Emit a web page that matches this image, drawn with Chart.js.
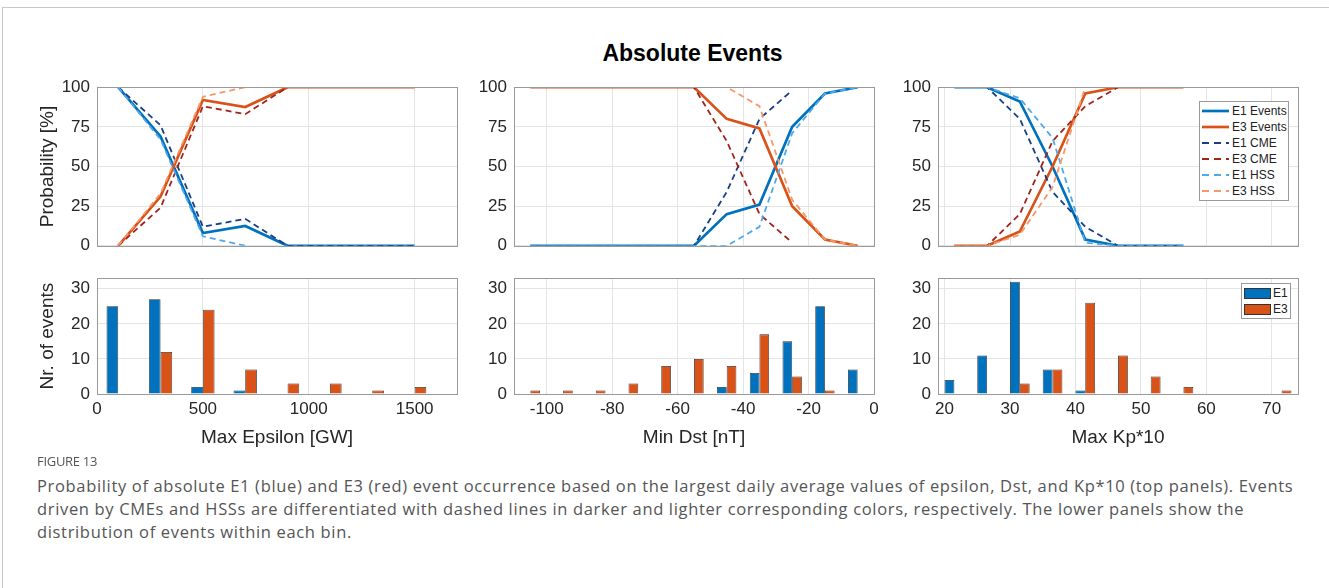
<!DOCTYPE html>
<html>
<head>
<meta charset="utf-8">
<script src="https://cdn.jsdelivr.net/npm/chart.js@4.4.1/dist/chart.umd.min.js"></script>
<style>
  html, body { margin: 0; padding: 0; background: #fff; }
  body { width: 1329px; height: 588px; position: relative; overflow: hidden; font-family: "Liberation Sans", Arial, sans-serif; }
  .frame { position: absolute; left: 2px; top: 7px; width: 1340px; height: 600px; border-top: 1px solid #c9c9c9; border-left: 1px solid #c9c9c9; }
  canvas { position: absolute; }
  #title { position: absolute; left: 0; width: 1385px; top: 40px; text-align: center; font: bold 23px "Liberation Sans", Arial, sans-serif; color: #000; }
  .legend { position: absolute; background: #fff; border: 1px solid #9a9a9a; font: 12px "Liberation Sans", Arial, sans-serif; color: #222; }
  .legend .row { display: flex; align-items: center; height: 16px; white-space: nowrap; }
  .legend svg { margin: 0 3px 0 2px; flex: none; }
  .legend .sw { width: 27px; height: 11px; margin: 0 2px 0 2px; border: 1px solid #333; box-sizing: border-box; flex: none; }
  .figlabel { position: absolute; left: 37px; top: 452px; font: 13px "Open Sans", sans-serif; color: #555; letter-spacing: -0.3px; }
  .caption { position: absolute; left: 37px; top: 474px; font: 16.5px/23px "Open Sans", sans-serif; color: #555; white-space: nowrap; letter-spacing: 0.66px; }
</style>
</head>
<body>
<div class="frame"></div>
<div id="title">Absolute Events</div>
<canvas id="epsTop"></canvas>
<canvas id="dstTop"></canvas>
<canvas id="kpTop"></canvas>
<canvas id="epsBottom"></canvas>
<canvas id="dstBottom"></canvas>
<canvas id="kpBottom"></canvas>
<div class="legend" id="lineLegend"></div>
<div class="legend" id="barLegend"></div>
<div class="figlabel">FIGURE 13</div>
<div class="caption">Probability of absolute E1 (blue) and E3 (red) event occurrence based on the largest daily average values of epsilon, Dst, and Kp*10 (top panels). Events<br>driven by CMEs and HSSs are differentiated with dashed lines in darker and lighter corresponding colors, respectively. The lower panels show the<br>distribution of events within each bin.</div>
<script>
// bin centres
const epsBins = [100, 300, 500, 700, 900, 1100, 1300, 1500];
const dstBins = [-105, -95, -85, -75, -65, -55, -45, -35, -25, -15, -5];
const kpBins = [21.5, 26.5, 31.5, 36.5, 41.5, 46.5, 51.5, 56.5, 61.5, 66.5, 71.5];

// probabilities [%]
const epsE1Events = [100, 69, 8, 12.5, 0, 0, 0, 0];
const epsE3Events = [0, 31, 92, 87.5, 100, 100, 100, 100];
const epsE1Cme = [100, 76, 12, 17, 0, 0, 0, 0];
const epsE3Cme = [0, 24, 88, 83, 100, 100, 100, 100];
const epsE1Hss = [100, 67, 6, 0, null, null, null, null];
const epsE3Hss = [0, 33, 94, 100, null, null, null, null];

const dstE1Events = [0, 0, 0, 0, 0, 0, 20, 26, 75, 96, 100];
const dstE3Events = [100, 100, 100, 100, 100, 100, 80, 74, 25, 4, 0];
const dstE1Cme = [0, 0, 0, 0, 0, 0, 34, 80, 98, null, null];
const dstE3Cme = [100, 100, 100, 100, 100, 100, 66, 20, 2, null, null];
const dstE1Hss = [0, 0, 0, 0, 0, 0, 0, 12, 71, 96, 100];
const dstE3Hss = [100, 100, 100, 100, 100, 100, 100, 88, 29, 4, 0];

const kpE1Events = [100, 100, 91, 50, 4, 0, 0, 0, null, null, null];
const kpE3Events = [0, 0, 9, 50, 96, 100, 100, 100, null, null, null];
const kpE1Cme = [100, 100, 80, 34, 12, 0, 0, 0, null, null, null];
const kpE3Cme = [0, 0, 20, 66, 88, 100, 100, 100, null, null, null];
const kpE1Hss = [100, 100, 93, 68, 2, 0, 0, 0, null, null, null];
const kpE3Hss = [0, 0, 7, 37, 100, 100, 100, 100, null, null, null];

// event counts per bin
const epsE1Count = [25, 27, 2, 1, 0, 0, 0, 0];
const epsE3Count = [0, 12, 24, 7, 3, 3, 1, 2];
const dstE1Count = [0, 0, 0, 0, 0, 0, 2, 6, 15, 25, 7];
const dstE3Count = [1, 1, 1, 3, 8, 10, 8, 17, 5, 1, 0];
const kpE1Count = [4, 11, 32, 7, 1, 0, 0, 0, 0, 0, 0];
const kpE3Count = [0, 0, 3, 7, 26, 11, 5, 2, 0, 0, 1];

// axis ticks
const epsTicks = [0, 500, 1000, 1500];
const dstTicks = [-100, -80, -60, -40, -20, 0];
const kpTicks = [20, 30, 40, 50, 60, 70];
const probTicks = [0, 25, 50, 75, 100];
const countTicks = [0, 10, 20, 30];

const lineNames = ['E1 Events', 'E3 Events', 'E1 CME', 'E3 CME', 'E1 HSS', 'E3 HSS'];
const lineColors = ['#0072BD', '#D95319', '#173F86', '#A3231B', '#4FA9EC', '#F6986A'];
const barNames = ['E1', 'E3'];
const barColors = ['#0072BD', '#D95319'];

Chart.defaults.font.family = '"Liberation Sans", Arial, sans-serif';
Chart.defaults.color = '#262626';
Chart.defaults.animation = false;

const boxPlugin = {
    id: 'box',
    afterDraw(chart) {
        const a = chart.chartArea;
        const ctx = chart.ctx;
        ctx.save();
        ctx.strokeStyle = '#9a9a9a';
        ctx.lineWidth = 1;
        ctx.strokeRect(Math.round(a.left) + 0.5, Math.round(a.top) + 0.5, Math.round(a.right - a.left), Math.round(a.bottom - a.top));
        ctx.restore();
    }
};

function setupCanvas(id, l, t, w, h, yw, below) {
    const c = document.getElementById(id);
    c.width = yw + w + 14;
    c.height = 14 + h + below;
    c.style.left = (l - yw) + 'px';
    c.style.top = (t - 14) + 'px';
    return c;
}

function fixedTicks(vals) {
    return scale => { scale.ticks = vals.map(v => ({ value: v })); };
}

function xScale(min, max, ticks, title, showLabels) {
    return {
        type: 'linear', min, max, offset: false,
        afterBuildTicks: fixedTicks(ticks),
        afterFit: s => { s.height = showLabels ? 58 : 0; },
        grid: { color: '#e4e4e4', drawTicks: false, offset: false },
        border: { display: false },
        ticks: { display: showLabels, padding: 5, font: { size: 17 }, callback: v => String(v), maxRotation: 0 },
        title: { display: showLabels, text: title, font: { size: 19 }, padding: { top: 0, bottom: 3 } }
    };
}

function yScale(max, ticks, title) {
    return {
        min: 0, max,
        afterBuildTicks: fixedTicks(ticks),
        afterFit: s => { s.width = 64; },
        grid: { color: '#e4e4e4', drawTicks: false },
        border: { display: false },
        ticks: { padding: 7, font: { size: 17 }, callback: v => String(v) },
        title: { display: !!title, text: title || '', font: { size: 19 }, padding: { top: 3, bottom: 0 } }
    };
}

function linePanel(id, l, xs, series, xmin, xmax, ticks, yTitle) {
    const c = setupCanvas(id, l, 84, 360, 171, 64, 8);
    new Chart(c, {
        type: 'line',
        data: {
            datasets: series.map((ys, i) => ({
                label: lineNames[i],
                data: xs.map((x, k) => ({ x, y: ys[k] })),
                borderColor: lineColors[i],
                borderWidth: i < 2 ? 2.7 : 1.8,
                borderDash: i < 2 ? [] : [6, 4],
                pointRadius: 0,
                tension: 0,
                fill: false,
                order: -i
            }))
        },
        options: {
            responsive: false,
            devicePixelRatio: 1,
            layout: { padding: { left: 0, top: 14, right: 14, bottom: 8 } },
            plugins: { legend: { display: false }, tooltip: { enabled: false } },
            scales: {
                x: xScale(xmin, xmax, ticks, '', false),
                y: yScale(100, probTicks, yTitle)
            }
        },
        plugins: [boxPlugin]
    });
}

function barPanel(id, l, xs, e1, e3, xmin, xmax, ticks, xTitle, yTitle, pct) {
    const c = setupCanvas(id, l, 275, 360, 119, 64, 58);
    new Chart(c, {
        type: 'bar',
        data: {
            datasets: [e1, e3].map((ys, i) => ({
                label: barNames[i],
                data: xs.map((x, k) => ({ x, y: ys[k] })),
                backgroundColor: barColors[i],
                borderColor: '#2b2b2b',
                borderWidth: 0.8,
                categoryPercentage: pct,
                barPercentage: 1
            }))
        },
        options: {
            responsive: false,
            devicePixelRatio: 1,
            layout: { padding: { left: 0, top: 14, right: 14, bottom: 0 } },
            plugins: { legend: { display: false }, tooltip: { enabled: false } },
            scales: {
                x: xScale(xmin, xmax, ticks, xTitle, true),
                y: yScale(33, countTicks, yTitle)
            }
        },
        plugins: [boxPlugin]
    });
}

linePanel('epsTop', 97, epsBins, [epsE1Events, epsE3Events, epsE1Cme, epsE3Cme, epsE1Hss, epsE3Hss], 0, 1700, epsTicks, 'Probability [%]');
linePanel('dstTop', 514, dstBins, [dstE1Events, dstE3Events, dstE1Cme, dstE3Cme, dstE1Hss, dstE3Hss], -110, 0, dstTicks, '');
linePanel('kpTop', 938, kpBins, [kpE1Events, kpE3Events, kpE1Cme, kpE3Cme, kpE1Hss, kpE3Hss], 19, 74, kpTicks, '');

barPanel('epsBottom', 97, epsBins, epsE1Count, epsE3Count, 0, 1700, epsTicks, 'Max Epsilon [GW]', 'Nr. of events', 0.55);
barPanel('dstBottom', 514, dstBins, dstE1Count, dstE3Count, -110, 0, dstTicks, 'Min Dst [nT]', '', 0.59);
barPanel('kpBottom', 938, kpBins, kpE1Count, kpE3Count, 19, 74, kpTicks, 'Max Kp*10', '', 0.6);

// legends
const lineLegend = document.getElementById('lineLegend');
Object.assign(lineLegend.style, { left: '1199px', top: '101px', width: '88px', padding: '1px 0' });
lineNames.forEach((name, i) => {
    const dash = i < 2 ? '' : 'stroke-dasharray="7 5"';
    lineLegend.innerHTML += `<div class="row"><svg width="27" height="6"><line x1="0" y1="3" x2="27" y2="3" stroke="${lineColors[i]}" stroke-width="${i < 2 ? 2.7 : 1.8}" ${dash}/></svg>${name}</div>`;
});
const barLegend = document.getElementById('barLegend');
Object.assign(barLegend.style, { left: '1241px', top: '283px', width: '48px', padding: '1px 0' });
barNames.forEach((name, i) => {
    barLegend.innerHTML += `<div class="row"><div class="sw" style="background:${barColors[i]}"></div>${name}</div>`;
});
</script>
</body>
</html>
